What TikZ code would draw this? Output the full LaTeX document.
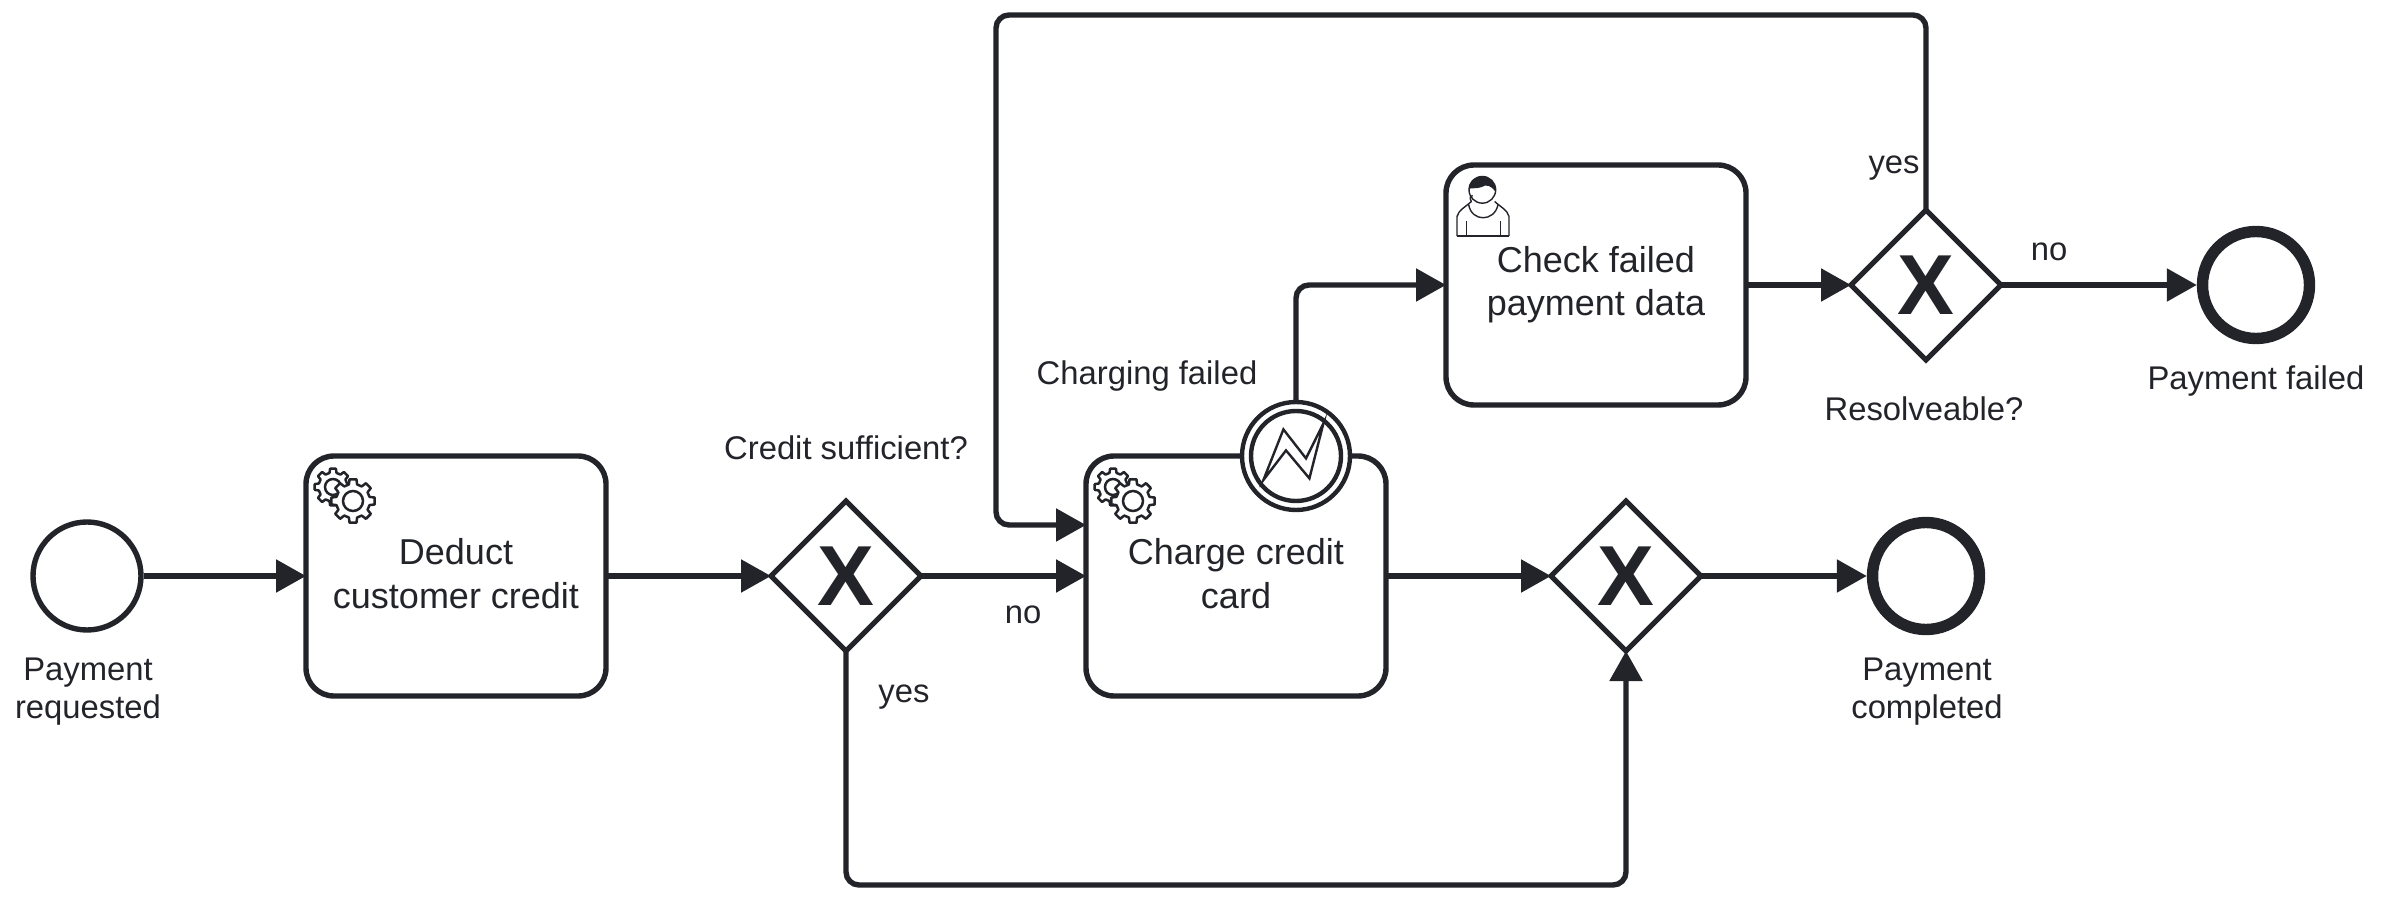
\documentclass[tikz,border=0pt]{standalone}
\usepackage{fontspec}
\setmainfont{Liberation Sans}
\usetikzlibrary{positioning, arrows.meta, shapes.geometric}
\definecolor{ink}{HTML}{22242A}

\newcommand\gearwheel[5]{%
  \begin{scope}[shift={(#1,#2)}]
    \draw[fill=white,line width=1.25pt,line join=round] (-14:#3) \foreach \a in {0,45,...,315} {
      -- (\a-9:#4) -- (\a+9:#4) -- (\a+14:#3) -- (\a+31:#3)} -- cycle;
    \draw[line width=1.25pt] (0,0) circle (#5);
  \end{scope}}

\tikzset{
  task/.style={draw,rectangle,rounded corners=14pt,fill=white,line width=2.7pt,minimum width=150pt,minimum height=120pt,inner sep=0pt,outer sep=0pt,align=center,font=\fontsize{18}{21.6}\selectfont,execute at end node={\rule[-2.5pt]{0pt}{2.5pt}}},
  gateway/.style={draw,diamond,aspect=1,fill=white,line width=2.5pt,minimum size=75pt,inner sep=0pt,outer sep=0pt,font=\fontsize{42.6}{42.6}\selectfont\bfseries},
  startevent/.style={draw,circle,fill=white,line width=2.7pt,minimum size=54pt,inner sep=0pt},
  endevent/.style={draw,circle,fill=white,line width=5.7pt,minimum size=53.5pt,inner sep=0pt},
  boundary/.style={draw,circle,fill=white,line width=2.2pt,minimum size=54pt,inner sep=0pt},
  boundaryin/.style={draw,circle,line width=2.2pt,minimum size=45pt,inner sep=0pt},
  lbl/.style={align=center,inner sep=0pt,font=\fontsize{16.4}{19}\selectfont},
  flow/.style={-{Triangle[length=15pt,width=16pt]},line width=2.7pt},
  servicemark/.pic={
    \begin{scope}[x=0.5pt,y=-0.5pt]
      \gearwheel{27}{31}{14.5}{18.5}{8}
      \gearwheel{47}{45}{17}{22}{10}
    \end{scope}},
  usermark/.pic={
    \begin{scope}[x=0.1667pt,y=-0.1667pt,line width=0.7pt,line join=round]
      \draw (3,107) -- (3,48) .. controls (8,28) and (28,20) .. (46,3)
        .. controls (38,-10) and (45,-15) .. (50,-15);
      \draw (159,107) -- (159,48) .. controls (154,28) and (134,20) .. (116,3);
      \draw (3,107) -- (159,107);
      \draw (38,12) .. controls (46,65) and (116,65) .. (126,12);
      \draw (31,62) -- (31,107) (133,62) -- (133,107);
      \draw (79,-32) circle (40);
      \fill (39,-35) .. controls (41,-65) and (61,-72) .. (79,-72)
        .. controls (101,-72) and (119,-55) .. (119,-25)
        .. controls (106,-45) and (91,-50) .. (76,-40)
        .. controls (61,-35) and (46,-38) .. (39,-35) -- cycle;
    \end{scope}}
}

\begin{document}
\begin{tikzpicture}[on grid, color=ink]
        \useasboundingbox (-43.5pt,-162pt) rectangle (1147.5pt,288pt);

        \node[startevent] (start) {};
        \node[lbl,below right = 58pt and 0.5pt of start] {Payment\\requested};
        \node[task,right = 184.5pt of start] (deduct) {Deduct\\customer credit};
        \node[gateway,right = 195pt of deduct] (gw1) {X};
        \node[lbl,above = 64pt of gw1] (gw1label) {Credit sufficient?};
        \node[task,right = 195pt of gw1] (charge) {Charge credit\\card};
        \node[gateway,right = 195pt of charge] (gw2) {X};
        \node[endevent,right = 150pt of gw2] (endok) {};
        \node[lbl,below right = 58pt and 0.5pt of endok] {Payment\\completed};

        \node[boundary] (bd) at ([xshift=30pt]charge.north) {};
        \node[boundaryin] (bdin) at (bd) {};
        \node[lbl,above left = 40pt and 74.5pt of bd] (bdlabel) {Charging failed};

        \node[task,above right = 145.5pt and 180pt of charge] (check) {Check failed\\payment data};
        \node[gateway,right = 165pt of check] (gw3) {X};
        \node[lbl,below left = 62pt and 1pt of gw3] (gw3label) {Resolveable?};
        \node[endevent,right = 165pt of gw3] (endfail) {};
        \node[lbl,below = 48pt of endfail] {Payment failed};

        \node[lbl,below right = 19.5pt and 88.5pt of gw1] (no1) {no};
        \node[lbl,below right = 60.5pt and 29pt of gw1] (yes1) {yes};
        \node[lbl,above left = 58.5pt and 16pt of gw3] (yes3) {yes};
        \node[lbl,above right = 16.5pt and 61.5pt of gw3] (no3) {no};

        \pic at (deduct.north west) {servicemark};
        \pic at (charge.north west) {servicemark};
        \pic at ([xshift=5pt,yshift=-17.75pt]check.north west) {usermark};
        \draw[line width=1.2pt,line join=miter] ([shift={(-16.3pt,-12pt)}]bd.center) -- ++(10pt,25.3pt) -- ++(11.3pt,-14.5pt) -- ++(8.7pt,17.5pt) -- ++(-7pt,-27.5pt) -- ++(-11.7pt,14pt) -- cycle;

        \coordinate (loopin) at ([yshift=25.5pt]charge.west);
        \coordinate (loopleft) at ([xshift=-45pt]loopin);
        \coordinate (looptop) at (0,280.5pt);
        \coordinate (loopbase) at (0,-154.5pt);

        \draw[flow] (start) -- (deduct);
        \draw[flow] (deduct) -- (gw1);
        \draw[flow] (gw1) -- (charge);
        \draw[flow] (charge) -- (gw2);
        \draw[flow] (gw2) -- (endok);
        \draw[flow] (check) -- (gw3);
        \draw[flow] (gw3) -- (endfail);
        \draw[flow,rounded corners=6.5pt] (bd.north) |- (check.west);
        \draw[flow,rounded corners=6.5pt] (gw1.south) -- (gw1 |- loopbase) -- (gw2 |- loopbase) -- (gw2.south);
        \draw[flow,rounded corners=6.5pt] (gw3.north) -- (gw3 |- looptop) -- (loopleft |- looptop) -- (loopleft) -- (loopin);
\end{tikzpicture}
\end{document}
